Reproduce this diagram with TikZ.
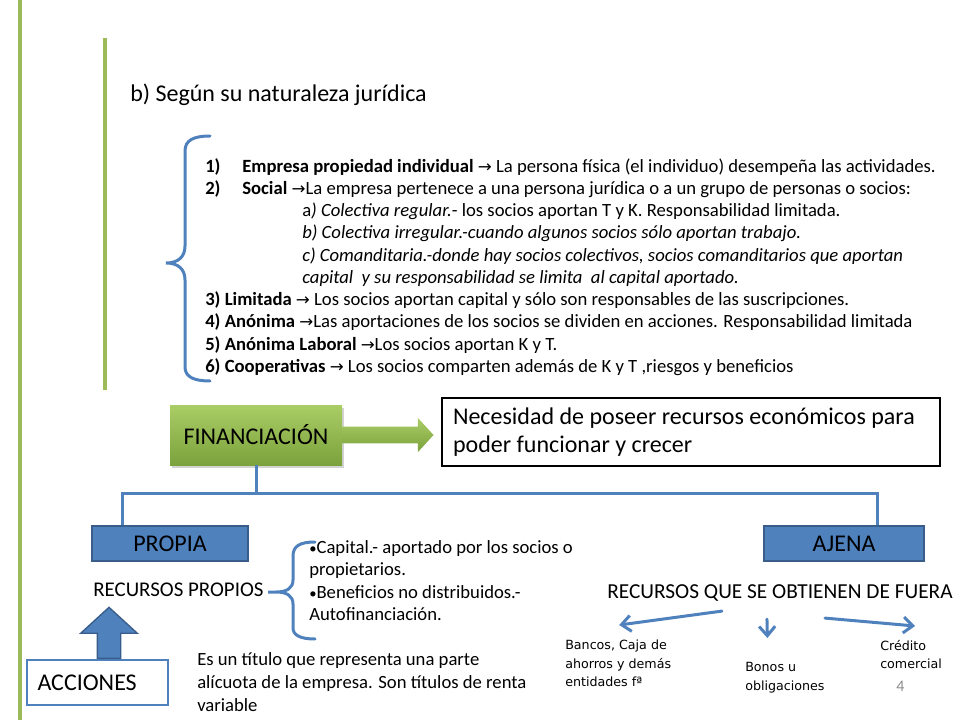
\documentclass[tikz,border=0pt]{standalone}
\usepackage{fontspec}
\setmainfont{Carlito}
\newfontfamily\etiq{DejaVu Sans}
\usetikzlibrary{arrows.meta, positioning, calc, shapes.arrows, shadows}

\definecolor{verde}{HTML}{9BBB59}
\definecolor{verdeclaro}{HTML}{AACD66}
\definecolor{verdeosc}{HTML}{7BA23C}
\definecolor{azul}{HTML}{4F81BD}
\definecolor{azulosc}{HTML}{385D8A}
\definecolor{gris}{HTML}{8C8C8C}

\newcommand{\fl}{{\etiq\fontsize{12.5}{12}\selectfont →}}
\newcommand{\num}[1]{\makebox[27.75pt][l]{\textbf{#1}}}
\newcommand{\bul}{{\fontsize{11}{11}\selectfont •}}

\begin{document}
\begin{tikzpicture}[x=0.75pt, y=-0.75pt,
    texto/.style={inner sep=0pt, align=left, anchor=north west},
    etiqueta/.style={texto, font=\etiq\fontsize{9.5}{13.9}\selectfont},
    caja_verde/.style={top color=verdeclaro, bottom color=verdeosc, minimum width=129pt, minimum height=45pt, font=\fontsize{18}{22}\selectfont, drop shadow={opacity=0.35, shadow xshift=1.5pt, shadow yshift=-2pt}},
    caja_azul/.style={draw=azulosc, fill=azul, line width=1pt, minimum height=26.25pt, font=\fontsize{18}{22}\selectfont},
    caja_texto/.style={draw, line width=2pt, fill=white, minimum width=373.5pt, minimum height=51pt, text width=357pt, inner xsep=8pt, align=flush left, font=\fontsize{18}{21}\selectfont},
    caja_acc/.style={draw=azul, line width=1.5pt, fill=white, minimum width=105.75pt, minimum height=33.75pt, text width=90pt, inner xsep=7.5pt, align=flush left, font=\fontsize{18}{22}\selectfont},
    flecha_verde/.style={single arrow, top color=verdeclaro, bottom color=verdeosc, minimum height=68.25pt, inner xsep=0pt, inner ysep=6pt, single arrow head extend=6.6pt, single arrow tip angle=95, anchor=tail},
    flecha_azul/.style={single arrow, draw=azulosc, fill=azul, line width=1pt, minimum height=38.25pt, inner xsep=0pt, inner ysep=8.25pt, single arrow head extend=12.4pt, single arrow tip angle=95, anchor=tail, rotate=90},
    flecha/.style={-{Straight Barb[length=7pt, width=12pt]}, azul, line width=2.25pt, line cap=round},
    linea/.style={azul, line width=2.25pt},
    llave/.style={azul, line width=2.25pt, line cap=round},
]
\useasboundingbox (0,0) rectangle (960,720);

% lineas verdes
\draw[verde, line width=3.4pt] (20,0) -- (20,720);
\draw[verde, line width=2.6pt] (105,38) -- (105,390);

\node[texto, anchor=base west, font=\fontsize{18}{22}\selectfont] (titulo) at (130,102) {b) Según su naturaleza jurídica};

\node[texto, font=\fontsize{14}{16.7}\selectfont] (tipos) at (205,158) {%
\num{1)}\textbf{Empresa propiedad individual} \fl{} La persona física (el individuo) desempeña las actividades.\\
\num{2)}\textbf{Social} \fl La empresa pertenece a una persona jurídica o a un grupo de personas o socios:\\
\hspace*{72.75pt}a\textit{) Colectiva regular.}- los socios aportan T y K. Responsabilidad limitada.\\
\hspace*{72.75pt}\textit{b) Colectiva irregular.-cuando algunos socios sólo aportan trabajo.}\\
\hspace*{72.75pt}\textit{c) Comanditaria.-donde hay socios colectivos, socios comanditarios que aportan}\\
\hspace*{72.75pt}\textit{capital \ y su responsabilidad se limita \ al capital aportado.}\\
\textbf{3) Limitada} \fl{} Los socios aportan capital y sólo son responsables de las suscripciones.\\
\textbf{4) Anónima} \fl Las aportaciones de los socios se dividen en acciones. Responsabilidad limitada\\
\textbf{5) Anónima Laboral} \fl Los socios aportan K y T.\\
\textbf{6) Cooperativas} \fl{} Los socios comparten además de K y T ,riesgos y beneficios};

% llave grande
\draw[llave] (210,136) .. controls (194,136) and (185,140) .. (185,151) -- (185,246)
    .. controls (185,257) and (178,263) .. (166,263) .. controls (178,263) and (185,269) .. (185,280)
    -- (185,367) .. controls (185,377) and (194,381) .. (210,381);

\node[caja_verde] (fin) at (256,435) {FINANCIACIÓN};
\node[caja_texto] (necesidad) at (691,432) {Necesidad de poseer recursos económicos para\\poder funcionar y crecer};
\node[flecha_verde] (fv) at (fin.east) {};

% ramas
\coordinate (barra_izq) at (122,493);
\coordinate (barra_der) at (877,493);
\node[caja_azul, minimum width=117pt] (propia) at (170,543.5) {PROPIA};
\node[caja_azul, minimum width=120pt] (ajena) at (844,543.5) {AJENA};
\draw[linea] (fin.south) -- (fin.south |- barra_izq);
\draw[linea] (propia.north -| barra_izq) -- (barra_izq) -- (barra_der) -- (ajena.north -| barra_der);

\node[texto, anchor=base west, font=\fontsize{15.7}{19}\selectfont] (rprop) at (93,596) {RECURSOS PROPIOS};
\node[texto, anchor=base west, font=\fontsize{16}{19}\selectfont] (fuera) at (607,598) {RECURSOS QUE SE OBTIENEN DE FUERA};

% llave pequena
\draw[llave] (315,542) .. controls (300,542) and (293,546) .. (293,556) -- (293,580)
    .. controls (293,588) and (287,592) .. (276,592) -- (268,592) -- (276,592)
    .. controls (287,592) and (293,596) .. (293,604) -- (293,628)
    .. controls (293,635) and (300,639) .. (315,639);

\node[texto, font=\fontsize{14}{16.7}\selectfont] (fuentes) at (309,540.5) {\bul Capital.- aportado por los socios o\\propietarios.\\\bul Beneficios no distribuidos.-\\Autofinanciación.};

% acciones
\node[caja_acc] (acciones) at (97.5,682.5) {ACCIONES};
\node[flecha_azul] (fa) at ($(acciones.north)+(11.5,0)$) {};
\node[texto, font=\fontsize{14}{17.2}\selectfont] (def_acc) at (197,652) {Es un título que representa una parte\\alícuota de la empresa. Son títulos de renta\\variable};

% ajena
\node[etiqueta] (bancos) at (565,640) {Bancos, Caja de\\ahorros y demás\\entidades fª};
\node[etiqueta] (bonos) at (745,662) {Bonos u\\obligaciones};
\node[etiqueta] (credito) at (880,640) {Crédito\\comercial};
\draw[flecha] ($(fuera.south)+(-58,10)$) -- ($(bancos.north)+(1,-15)$);
\draw[flecha] ($(fuera.south)+(-13,18)$) -- ($(bonos.north)+(-17.5,-24)$);
\draw[flecha] ($(fuera.south)+(45,17)$) -- ($(credito.north)+(4,-14)$);

\node[texto, anchor=base west, text=gris, font=\fontsize{12}{14}\selectfont] (pagina) at (896,691) {4};

\end{tikzpicture}
\end{document}
